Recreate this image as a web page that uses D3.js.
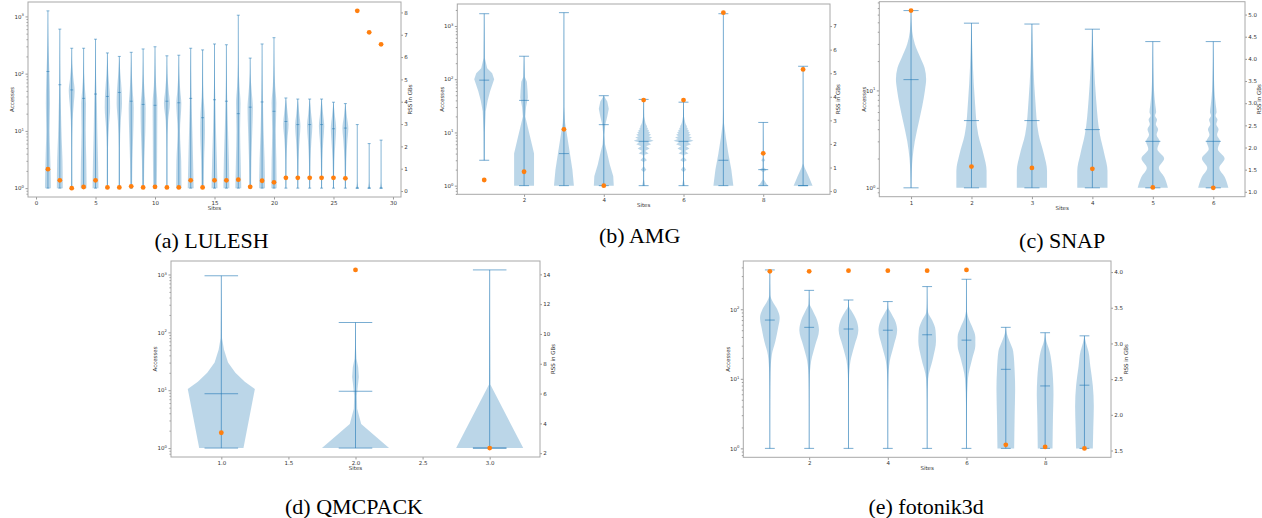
<!DOCTYPE html>
<html>
<head>
<meta charset="utf-8">
<title>Accesses per site</title>
<script src="https://cdn.jsdelivr.net/npm/d3@7"></script>
<style>
  html, body { margin: 0; padding: 0; background: #ffffff; }
  svg { display: block; }
</style>
</head>
<body>
<svg id="figure" width="1262" height="518"></svg>
<script>
// ############################################################################
// Violin figure: accesses per site (left log axis) and RSS (right axis)
// for five benchmarks, matplotlib look
// ############################################################################

// ----------------------------------------------------------------------------
// Data: LULESH
// Shapes are [accesses, relative half width]
// ----------------------------------------------------------------------------

const luleshSites   = [1, 2, 3, 4, 5, 6, 7, 8, 9, 10, 11, 12, 13, 14, 15,
                       16, 17, 18, 19, 20, 21, 22, 23, 24, 25, 26, 27, 28, 29]
const luleshMin     = [1, 1, 1, 1, 1, 1, 1, 1, 1, 1, 1, 1, 1, 1, 1,
                       1, 1, 1, 1, 1, 1, 1, 1, 1, 1, 1, 1, 1, 1]
const luleshMax     = [1250, 600, 278, 278, 400, 230, 200, 236, 270, 295, 205, 210, 278, 260, 330,
                       320, 1050, 187, 330, 425, 37.6, 36, 36, 36, 31.7, 30, 12.9, 6.0, 6.9]
const luleshMedian  = [109, 64, 52, 37, 44, 40, 47, 33, 29, 28, 33, 31, 37, 17, 35,
                       33, 20, 26, 32, 22, 14.6, 12.9, 12.9, 12.9, 10.9, 11.2, 1, 1, 1]
const luleshRss     = [0.98, 0.48, 0.13, 0.18, 0.48, 0.16, 0.16, 0.21, 0.16, 0.19, 0.16, 0.16, 0.48, 0.16, 0.48,
                       0.48, 0.51, 0.19, 0.46, 0.39, 0.59, 0.59, 0.59, 0.59, 0.59, 0.57, 8.07, 7.11, 6.57]
const luleshShapes  = [
  [[1, 1], [2, 0.9], [5, 0.7], [10, 0.55], [30, 0.7], [80, 0.55], [200, 0.3], [500, 0.08], [1250, 0]],
  [[1, 1], [3, 0.9], [8, 0.6], [20, 0.4], [60, 0.2], [150, 0.08], [600, 0]],
  [[1, 0.2], [5, 0.15], [15, 0.3], [30, 0.7], [50, 1], [80, 0.6], [150, 0.15], [278, 0]],
  [[1, 1], [3, 0.9], [10, 0.7], [30, 0.8], [50, 0.5], [100, 0.15], [278, 0]],
  [[1, 1], [3, 0.85], [10, 0.6], [30, 0.45], [80, 0.2], [400, 0]],
  [[1, 0.2], [5, 0.2], [12, 0.5], [25, 0.9], [45, 0.8], [100, 0.3], [230, 0]],
  [[1, 0.2], [5, 0.2], [15, 0.5], [30, 0.9], [50, 0.8], [100, 0.35], [200, 0]],
  [[1, 0.3], [3, 0.4], [10, 0.7], [25, 0.85], [50, 0.5], [100, 0.2], [236, 0]],
  [[1, 0.3], [3, 0.4], [10, 0.75], [25, 0.85], [50, 0.45], [100, 0.15], [270, 0]],
  [[1, 0.6], [3, 0.7], [10, 0.75], [30, 0.8], [60, 0.4], [150, 0.1], [295, 0]],
  [[1, 0.15], [5, 0.15], [15, 0.4], [30, 1], [50, 0.6], [100, 0.15], [205, 0]],
  [[1, 0.9], [3, 0.8], [10, 0.4], [30, 0.85], [50, 0.5], [100, 0.15], [210, 0]],
  [[1, 1], [3, 0.8], [10, 0.55], [30, 0.3], [80, 0.15], [278, 0]],
  [[1, 0.4], [3, 0.5], [10, 0.8], [20, 0.7], [40, 0.3], [100, 0.1], [260, 0]],
  [[1, 1], [3, 0.8], [10, 0.5], [30, 0.3], [100, 0.1], [330, 0]],
  [[1, 1], [3, 0.85], [10, 0.55], [30, 0.3], [100, 0.1], [320, 0]],
  [[1, 1], [3, 0.8], [10, 0.6], [30, 0.75], [60, 0.4], [150, 0.1], [1050, 0]],
  [[1, 0.3], [3, 0.4], [10, 0.7], [25, 0.9], [50, 0.5], [100, 0.1], [187, 0]],
  [[1, 1], [3, 0.85], [10, 0.5], [30, 0.3], [100, 0.1], [330, 0]],
  [[1, 0.9], [3, 0.8], [10, 0.6], [30, 0.8], [60, 0.4], [150, 0.1], [425, 0]],
  [[1, 0.15], [3, 0.2], [7, 0.5], [13, 0.9], [20, 0.6], [37.6, 0]],
  [[1, 0.15], [3, 0.25], [7, 0.6], [12, 0.9], [20, 0.5], [36, 0]],
  [[1, 0.15], [3, 0.25], [7, 0.6], [12, 0.9], [20, 0.5], [36, 0]],
  [[1, 0.15], [3, 0.25], [7, 0.6], [12, 0.9], [20, 0.5], [36, 0]],
  [[1, 0.15], [3, 0.3], [7, 0.7], [11, 0.9], [18, 0.5], [31.7, 0]],
  [[1, 0.15], [3, 0.3], [7, 0.7], [11, 1], [18, 0.5], [30, 0]],
  [[1, 0.5], [1.1, 0.2], [1.3, 0.03], [12.9, 0]],
  [[1, 0.4], [1.1, 0.2], [1.3, 0.03], [6.0, 0]],
  [[1, 0.4], [1.1, 0.2], [1.3, 0.03], [6.9, 0]]
]
const luleshXTicks  = [0, 5, 10, 15, 20, 25, 30]
const luleshRssTicks = [0, 1, 2, 3, 4, 5, 6, 7, 8]

// ----------------------------------------------------------------------------
// Data: AMG
// ----------------------------------------------------------------------------

const amgSites   = [1, 2, 3, 4, 5, 6, 7, 8, 9]
const amgMin     = [3.0, 1, 1, 1, 1, 1, 1, 1, 1]
const amgMax     = [1700, 270, 1780, 49, 41.7, 37, 1700, 15.4, 175]
const amgMedian  = [96, 40, 4.0, 14, 6.8, 6.8, 3.0, 2.0, 1]
const amgRss     = [0.47, 0.82, 2.62, 0.23, 3.86, 3.86, 7.57, 1.60, 5.16]
const amgComb    = [[1, 0.15], [1.3, 0.03], [1.8, 0.03], [2, 0.27], [2.3, 0.03], [2.8, 0.05], [3, 0.33],
                    [3.4, 0.06], [3.8, 0.1], [4, 0.5], [4.5, 0.15], [5, 0.6], [5.5, 0.25], [6, 0.75],
                    [6.5, 0.45], [7, 1], [7.5, 0.55], [8, 0.85], [8.5, 0.5], [9, 0.75], [9.5, 0.5],
                    [10, 0.65], [10.5, 0.45], [11, 0.55], [11.5, 0.35], [12, 0.45], [12.5, 0.3],
                    [13, 0.35], [14, 0.25], [15, 0.18], [20, 0.05], [30, 0.02]]
const amgShapes  = [
  [[3, 0.04], [10, 0.06], [25, 0.15], [40, 0.35], [60, 0.6], [100, 1], [130, 0.8], [160, 0.3], [250, 0.06], [1700, 0]],
  [[1, 1], [4, 1], [7, 0.7], [12, 0.4], [20, 0.12], [30, 0.2], [45, 0.38], [60, 0.35], [90, 0.28], [110, 0.08], [270, 0]],
  [[1, 1], [2, 0.85], [4, 0.6], [8, 0.35], [15, 0.12], [30, 0.03], [1780, 0]],
  [[1, 1], [1.5, 0.95], [2.5, 0.6], [4, 0.35], [6, 0.12], [9, 0.05], [14, 0.15], [20, 0.35], [28, 0.5], [38, 0.35], [49, 0]],
  amgComb.concat([[41.7, 0]]),
  amgComb.concat([[37, 0]]),
  [[1, 1], [2, 0.8], [4, 0.5], [8, 0.25], [15, 0.06], [30, 0.02], [1700, 0]],
  [[1, 0.5], [1.1, 0.3], [1.3, 0.05], [1.8, 0.05], [2, 0.35], [2.2, 0.05], [2.8, 0.05], [3, 0.2], [3.3, 0.03], [7, 0.02], [15.4, 0]],
  [[1, 0.95], [1.5, 0.55], [2.2, 0.15], [2.6, 0.03], [175, 0]]
]
const amgXTicks   = [2, 4, 6, 8]
const amgRssTicks = [0, 1, 2, 3, 4, 5, 6, 7]

// ----------------------------------------------------------------------------
// Data: SNAP
// ----------------------------------------------------------------------------

const snapSites   = [1, 2, 3, 4, 5, 6]
const snapMin     = [1, 1, 1, 1, 1, 1]
const snapMax     = [66, 49, 48, 42.5, 31.7, 31.7]
const snapMedian  = [12.9, 4.9, 4.9, 3.96, 3.0, 3.0]
const snapRss     = [5.09, 1.57, 1.54, 1.52, 1.10, 1.09]
const snapComb    = [[1, 1], [1.3, 0.75], [1.6, 0.4], [2, 0.75], [2.5, 0.3], [3, 0.45], [3.5, 0.25],
                     [4, 0.35], [4.5, 0.2], [5, 0.28], [5.5, 0.15], [6, 0.22], [7, 0.17], [8, 0.13],
                     [10, 0.08], [13, 0.05], [20, 0.02], [31.7, 0]]
const snapShapes  = [
  [[1, 0.02], [1.5, 0.05], [2, 0.1], [3, 0.25], [5, 0.55], [7, 0.75], [10, 0.92], [13, 1], [17, 0.9], [22, 0.6], [30, 0.25], [40, 0.08], [66, 0]],
  [[1, 1], [1.5, 1], [2.2, 0.8], [3.5, 0.45], [8, 0.22], [17, 0.1], [35, 0.03], [49, 0]],
  [[1, 1], [1.5, 1], [2.2, 0.8], [3.5, 0.45], [8, 0.22], [17, 0.1], [35, 0.03], [48, 0]],
  [[1, 1], [1.5, 1], [2.2, 0.8], [3.5, 0.5], [8, 0.25], [17, 0.12], [30, 0.04], [42.5, 0]],
  snapComb,
  snapComb
]
const snapXTicks   = [1, 2, 3, 4, 5, 6]
const snapRssTicks = [1.0, 1.5, 2.0, 2.5, 3.0, 3.5, 4.0, 4.5, 5.0]

// ----------------------------------------------------------------------------
// Data: QMCPACK
// ----------------------------------------------------------------------------

const qmcSites   = [1, 2, 3]
const qmcMin     = [1, 1, 1]
const qmcMax     = [950, 148, 1200]
const qmcMedian  = [8.7, 9.6, 1]
const qmcRss     = [3.37, 14.3, 2.34]
const qmcShapes  = [
  [[1, 0.66], [10.5, 1], [14, 0.7], [20, 0.42], [30, 0.2], [50, 0.08], [80, 0.02], [950, 0]],
  [[1, 1], [2.6, 0.17], [4.8, 0.05], [8, 0.04], [12, 0.07], [17, 0.1], [25, 0.08], [35, 0.03], [60, 0.01], [148, 0]],
  [[1, 1], [12.5, 0.02], [1200, 0]]
]
const qmcXTicks   = [1.0, 1.5, 2.0, 2.5, 3.0]
const qmcRssTicks = [2, 4, 6, 8, 10, 12, 14]

// ----------------------------------------------------------------------------
// Data: fotonik3d
// ----------------------------------------------------------------------------

const fotonikSites   = [1, 2, 3, 4, 5, 6, 7, 8, 9]
const fotonikMin     = [1, 1, 1, 1, 1, 1, 1, 1, 1]
const fotonikMax     = [368, 187, 136, 129, 212, 270, 55, 46, 41.5]
const fotonikMedian  = [70, 55, 52, 50, 43, 36, 13.7, 7.9, 8.1]
const fotonikRss     = [4.01, 4.01, 4.02, 4.02, 4.02, 4.03, 1.58, 1.55, 1.53]
const fotonikShapes  = [
  [[1, 0.01], [5, 0.02], [12, 0.06], [22, 0.2], [34, 0.55], [55, 0.85], [75, 1], [100, 0.75], [130, 0.27], [160, 0.05], [368, 0]],
  [[1, 0.01], [5, 0.02], [10, 0.05], [18, 0.2], [30, 0.6], [50, 1], [70, 0.8], [100, 0.3], [120, 0.05], [187, 0]],
  [[1, 0.01], [5, 0.02], [10, 0.05], [18, 0.2], [30, 0.6], [50, 1], [70, 0.8], [95, 0.3], [110, 0.05], [136, 0]],
  [[1, 0.01], [5, 0.02], [10, 0.05], [18, 0.2], [30, 0.6], [50, 0.95], [65, 0.8], [90, 0.3], [105, 0.05], [129, 0]],
  [[1, 0.01], [5, 0.03], [10, 0.1], [20, 0.6], [35, 0.9], [50, 0.85], [70, 0.5], [90, 0.1], [120, 0.02], [212, 0]],
  [[1, 0.01], [4, 0.04], [10, 0.15], [20, 0.6], [30, 0.9], [40, 0.9], [55, 0.6], [75, 0.2], [100, 0.03], [270, 0]],
  [[1, 0.85], [3, 0.9], [7, 0.95], [13, 0.9], [25, 0.75], [34, 0.4], [45, 0.1], [55, 0]],
  [[1, 0.75], [3, 0.8], [6, 0.85], [10, 0.8], [15, 0.7], [25, 0.45], [35, 0.12], [46, 0]],
  [[1, 0.85], [2, 0.9], [4, 0.95], [8, 0.85], [15, 0.6], [25, 0.4], [33, 0.15], [41.5, 0]]
]
const fotonikXTicks   = [2, 4, 6, 8]
const fotonikRssTicks = [1.5, 2.0, 2.5, 3.0, 3.5, 4.0]

const captions = ['(a) LULESH', '(b) AMG', '(c) SNAP', '(d) QMCPACK', '(e) fotonik3d']


// ############################################################################
// ViolinPanel
// ############################################################################
// One axes box: violins + extrema/median bars on a log scale,
// RSS dots on a twin linear axis, caption below
// ############################################################################

class ViolinPanel
{
  // ==========================================================================
  // Constructor
  // ==========================================================================

  constructor(svg, box, data)
  {
    this._box  = box
    this._data = data
    this._g    = svg.append('g')

    this._blue   = '#1f77b4'
    this._orange = '#ff7f0e'
    this._font   = 'DejaVu Sans, sans-serif'

    this._setupScales()
    this._drawBodies()
    this._drawBars()
    this._drawRss()
    this._drawAxes()
    this._drawLabels()
  }


  // ==========================================================================
  // Scales (matplotlib style: 5% margin around the data limits)
  // ==========================================================================

  _setupScales()
  {
    let d = this._data
    let b = this._box
    let pad = (lo, hi) => [lo - (hi - lo) * 0.05, hi + (hi - lo) * 0.05]

    // violins have width 0.5
    let xLim = pad(d3.min(d.sites) - 0.25, d3.max(d.sites) + 0.25)
    this._x = d3.scaleLinear().domain(xLim).range([b.left, b.right])

    let yLim = pad(Math.log10(d3.min(d.mins)), Math.log10(d3.max(d.maxs)))
    this._y = d3.scaleLog()
      .domain([Math.pow(10, yLim[0]), Math.pow(10, yLim[1])])
      .range([b.bottom, b.top])

    let rLim = pad(d3.min(d.rss), d3.max(d.rss))
    this._r = d3.scaleLinear().domain(rLim).range([b.bottom, b.top])

    this._half = this._x(0.25) - this._x(0)
  }


  // ==========================================================================
  // Violin bodies
  // ==========================================================================

  _drawBodies()
  {
    let d = this._data
    d.shapes.forEach((shape, i) => {
      let cx = this._x(d.sites[i])
      let area = d3.area()
        .curve(this._box.curve || d3.curveMonotoneY)
        .y(p => this._y(p[0]))
        .x0(p => cx - this._half * p[1])
        .x1(p => cx + this._half * p[1])
      this._g.append('path')
        .attr('d', area(shape))
        .attr('fill', this._blue)
        .attr('fill-opacity', 0.3)
    })
  }


  // ==========================================================================
  // Extrema line, caps and median bar
  // ==========================================================================

  _drawBars()
  {
    let d = this._data
    let cap = this._half / 2
    let bars = this._g.append('g')
      .attr('stroke', this._blue)
      .attr('stroke-opacity', 0.6)
      .attr('stroke-width', this._box.lineWidth || 1)

    let line = (x1, y1, x2, y2) => bars.append('line')
      .attr('x1', x1).attr('y1', y1).attr('x2', x2).attr('y2', y2)

    d.sites.forEach((s, i) => {
      let cx = this._x(s)
      line(cx, this._y(d.mins[i]), cx, this._y(d.maxs[i]))
      for (let v of [d.mins[i], d.maxs[i], d.medians[i]])
        line(cx - cap, this._y(v), cx + cap, this._y(v))
    })
  }


  // ==========================================================================
  // RSS dots on the twin axis
  // ==========================================================================

  _drawRss()
  {
    let d = this._data
    this._g.append('g').selectAll('circle')
      .data(d.rss)
      .join('circle')
      .attr('cx', (v, i) => this._x(d.sites[i]))
      .attr('cy', v => this._r(v))
      .attr('r', 2.4)
      .attr('fill', this._orange)
  }


  // ==========================================================================
  // Axes: left log, bottom linear, right linear, frame
  // ==========================================================================

  _drawAxes()
  {
    let b = this._box
    let d = this._data
    let font = this._font

    let style = g => {
      g.select('.domain').remove()
      g.attr('font-family', font).attr('font-size', 5.5)
      g.selectAll('.tick line').attr('stroke', '#555').attr('stroke-width', 0.6)
      g.selectAll('.tick text').attr('fill', '#333')
    }

    // Log ticks: decades are majors, 2..9 are minors
    let [lo, hi] = this._y.domain()
    let majors = []
    let minors = []
    for (let k = Math.floor(Math.log10(lo)); k <= Math.ceil(Math.log10(hi)); k++)
      for (let m = 1; m < 10; m++)
      {
        let v = m * Math.pow(10, k)
        if (v < lo || v > hi) continue
        if (m == 1) majors.push(v)
        else minors.push(v)
      }

    this._g.append('g')
      .attr('transform', `translate(${b.left},0)`)
      .call(d3.axisLeft(this._y).tickValues(minors).tickSize(1.5).tickFormat(''))
      .call(style)

    let left = this._g.append('g')
      .attr('transform', `translate(${b.left},0)`)
      .call(d3.axisLeft(this._y).tickValues(majors).tickSize(2.5).tickPadding(1.5))
      .call(style)

    left.selectAll('.tick text').each(function(v)
    {
      let t = d3.select(this)
      t.text(null)
      t.append('tspan').text('10')
      t.append('tspan')
        .attr('dy', -2.2)
        .attr('font-size', 3.8)
        .text(Math.round(Math.log10(v)))
    })

    this._g.append('g')
      .attr('transform', `translate(0,${b.bottom})`)
      .call(d3.axisBottom(this._x)
        .tickValues(d.xTicks)
        .tickFormat(d3.format(b.xFormat || 'd'))
        .tickSize(2.5).tickPadding(1.5))
      .call(style)

    this._g.append('g')
      .attr('transform', `translate(${b.right},0)`)
      .call(d3.axisRight(this._r)
        .tickValues(d.rssTicks)
        .tickFormat(d3.format(b.rssFormat || 'd'))
        .tickSize(2).tickPadding(1.2))
      .call(style)

    // Frame
    this._g.append('rect')
      .attr('x', b.left)
      .attr('y', b.top)
      .attr('width', b.right - b.left)
      .attr('height', b.bottom - b.top)
      .attr('fill', 'none')
      .attr('stroke', '#a8a8a8')
      .attr('stroke-width', 1)
  }


  // ==========================================================================
  // Axis labels and caption
  // ==========================================================================

  _drawLabels()
  {
    let b = this._box
    let midY = (b.top + b.bottom) / 2
    let midX = (b.left + b.right) / 2

    let label = (x, y, rot, txt) => this._g.append('text')
      .attr('transform', `translate(${x},${y}) rotate(${rot})`)
      .attr('text-anchor', 'middle')
      .attr('dy', '0.35em')
      .attr('font-family', this._font)
      .attr('font-size', 5.5)
      .attr('fill', '#333')
      .text(txt)

    label(b.left - 15.5, midY, -90, 'Accesses')
    label(midX, b.bottom + 11, 0, 'Sites')
    label(b.right + b.rssLabelDx, midY, -90, 'RSS in GBs')

    this._g.append('text')
      .attr('x', midX + b.capDx)
      .attr('y', b.capY)
      .attr('text-anchor', 'middle')
      .attr('font-family', 'Liberation Serif, Times New Roman, serif')
      .attr('font-size', 22)
      .attr('fill', '#000')
      .text(b.caption)
  }
}


// ############################################################################
// Build figure
// ############################################################################

const figure = d3.select('#figure')

new ViolinPanel(figure,
  { left: 28, right: 401, top: 2, bottom: 197, rssLabelDx: 9.5,
    lineWidth: 0.9, capDx: -3, capY: 248, caption: captions[0] },
  { sites: luleshSites, mins: luleshMin, maxs: luleshMax, medians: luleshMedian,
    rss: luleshRss, shapes: luleshShapes, xTicks: luleshXTicks, rssTicks: luleshRssTicks })

new ViolinPanel(figure,
  { left: 457.3, right: 830, top: 4, bottom: 194.3, rssLabelDx: 8.5,
    curve: d3.curveLinear, capDx: -4, capY: 243, caption: captions[1] },
  { sites: amgSites, mins: amgMin, maxs: amgMax, medians: amgMedian,
    rss: amgRss, shapes: amgShapes, xTicks: amgXTicks, rssTicks: amgRssTicks })

new ViolinPanel(figure,
  { left: 879.3, right: 1245, top: 1.7, bottom: 196.7, rssLabelDx: 14.3,
    rssFormat: '.1f', capDx: 0, capY: 248, caption: captions[2] },
  { sites: snapSites, mins: snapMin, maxs: snapMax, medians: snapMedian,
    rss: snapRss, shapes: snapShapes, xTicks: snapXTicks, rssTicks: snapRssTicks })

new ViolinPanel(figure,
  { left: 171, right: 540, top: 261, bottom: 457, rssLabelDx: 13.3,
    curve: d3.curveLinear, xFormat: '.1f', capDx: -1.5, capY: 514, caption: captions[3] },
  { sites: qmcSites, mins: qmcMin, maxs: qmcMax, medians: qmcMedian,
    rss: qmcRss, shapes: qmcShapes, xTicks: qmcXTicks, rssTicks: qmcRssTicks })

new ViolinPanel(figure,
  { left: 743.3, right: 1111, top: 261, bottom: 457.3, rssLabelDx: 15,
    rssFormat: '.1f', capDx: -1, capY: 514, caption: captions[4] },
  { sites: fotonikSites, mins: fotonikMin, maxs: fotonikMax, medians: fotonikMedian,
    rss: fotonikRss, shapes: fotonikShapes, xTicks: fotonikXTicks, rssTicks: fotonikRssTicks })
</script>
</body>
</html>
